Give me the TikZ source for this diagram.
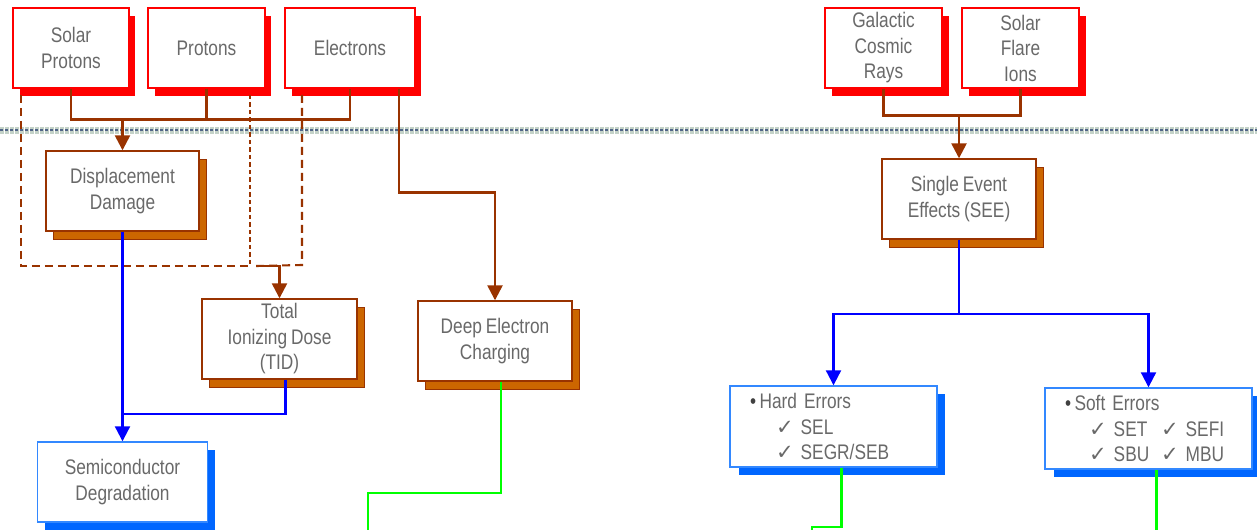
\documentclass[tikz,border=0pt]{standalone}
\usepackage{fontspec}
\setmainfont[FakeStretch=0.82, WordSpace=0.8]{Liberation Sans}
\newfontfamily\chkfont{DejaVu Sans}
\usetikzlibrary{arrows.meta,calc,shadows}
\definecolor{txtgray}{RGB}{105,105,105}
\definecolor{srcred}{RGB}{255,0,0}
\definecolor{effbrown}{RGB}{153,51,0}
\definecolor{effshade}{RGB}{204,102,0}
\definecolor{resblue}{RGB}{51,136,255}
\definecolor{resshade}{RGB}{0,102,255}
\definecolor{arrblue}{RGB}{0,0,255}
\definecolor{arrgreen}{RGB}{0,255,0}
\definecolor{bandgray}{RGB}{196,210,200}
\definecolor{bandblue}{RGB}{80,100,135}
\newcommand{\chk}{{\chkfont\char"2713}}

\begin{document}
\begin{tikzpicture}[
  x=0.02cm, y=-0.02cm,
  every node/.style={font=\fontsize{12}{14.5}\selectfont, text=txtgray, align=center, inner sep=0pt},
  srcbox/.style={draw=srcred, fill=white, line width=0.8pt, minimum width=#1, minimum height=1.6cm,
    general shadow={fill=srcred, shadow xshift=0.13cm, shadow yshift=-0.16cm}},
  effbox/.style={draw=effbrown, fill=white, line width=0.8pt, minimum width=#1, minimum height=1.6cm,
    general shadow={fill=effshade, draw=effbrown, shadow xshift=0.15cm, shadow yshift=-0.17cm}},
  resbox/.style={draw=resblue, fill=white, line width=0.8pt, minimum width=#1, minimum height=1.6cm,
    general shadow={fill=resshade, shadow xshift=0.15cm, shadow yshift=-0.16cm}},
  listbox/.style={draw=resblue, fill=white, line width=0.8pt, text width=3.34cm, inner xsep=0.4cm,
    minimum height=1.62cm, align=left,
    general shadow={fill=resshade, shadow xshift=0.17cm, shadow yshift=-0.16cm}},
  brownline/.style={draw=effbrown, line width=1.4pt},
  brownarr/.style={brownline, -{Triangle[length=0.3cm,width=0.3cm]}},
  bluearr/.style={draw=arrblue, line width=1.2pt, -{Triangle[length=0.3cm,width=0.3cm]}},
  blueline/.style={draw=arrblue, line width=1.2pt},
  greenline/.style={draw=arrgreen, line width=1.2pt},
  groupline/.style={draw=effbrown, line width=1.2pt, dash pattern=on 0.16cm off 0.1cm}
]
\useasboundingbox (0,0) rectangle (1257,530);

\draw[bandgray, line width=0.14cm, dash pattern=on 0.08cm off 0.02cm] (0,130.5) -- (1257,130.5);
\draw[bandblue, line width=0.04cm, dash pattern=on 0.06cm off 0.04cm] (0,130.5) -- (1257,130.5);

\node[srcbox=2.32cm] (solp) at (71,48) {Solar\\Protons};
\node[srcbox=2.34cm] (prot) at (206.5,48) {Protons};
\node[srcbox=2.6cm] (elec) at (350,48) {Electrons};
\node[srcbox=2.34cm] (gcr) at (883.5,48) {Galactic\\Cosmic\\Rays};
\node[srcbox=2.34cm] (sfi) at (1020.5,48) {Solar\\Flare\\Ions};

\node[effbox=3.06cm] (disp) at (122.5,191) {Displacement\\Damage};
\node[effbox=3.1cm] (tid) at (279.5,339) {Total\\Ionizing Dose\\(TID)};
\node[effbox=3.08cm] (dec) at (495,341) {Deep Electron\\Charging};
\node[effbox=3.08cm] (see) at (959,199) {Single Event\\Effects (SEE)};

\node[resbox=3.4cm] (semi) at (122.5,482) {Semiconductor\\Degradation};
\node[listbox] (hard) at (833.5,426.5) {{\color{darkgray}\textbullet}\,Hard Errors\\
  \hspace*{0.52cm}\chk\ SEL\\
  \hspace*{0.52cm}\chk\ SEGR/SEB};
\node[listbox] (soft) at (1148.5,428.5) {{\color{darkgray}\textbullet}\,Soft Errors\\
  \hspace*{0.48cm}\makebox[1.44cm][l]{\chk\ SET}\chk\ SEFI\\
  \hspace*{0.48cm}\makebox[1.44cm][l]{\chk\ SBU}\chk\ MBU};

\coordinate (gtop1) at (21,95);
\coordinate (gtop2) at (250,95);
\coordinate (gtop3) at (302,95);
\coordinate (gend) at (256,266);
\coordinate (gout1) at (368,530);
\coordinate (gout2) at (812,530);
\coordinate (gout3) at (1156.5,530);

\draw[groupline] (gtop1) -- (21,266) -- (250,266);
\draw[groupline, dash pattern=on 0.09cm off 0.06cm] (gtop2) -- (250,266);
\draw[groupline] (gtop3) -- (302,265) -- (gend);
\draw[brownarr] (gend) -| (tid.north);

\draw[brownline] (solp.south) -- ++(0,31) -| (elec.south);
\draw[brownline] (prot.south) -- ++(0,31);
\draw[brownarr] (disp.north |- 0,119) -- (disp.north);
\draw[brownarr] ($(elec.south)+(49,0)$) -- ++(0,104) -| (dec.north);

\draw[brownline] (gcr.south) -- ++(0,27) -| (sfi.south);
\draw[brownarr] (see.north |- 0,115) -- (see.north);

\draw[bluearr] (disp.south) -- (semi.north);
\draw[blueline] ($(tid.south)+(6,0)$) |- ($(semi.north)+(0,-27)$);
\draw[bluearr] (see.south) -- ++(0,74) -| (hard.north);
\draw[bluearr] (see.south) ++(0,74) -| (soft.north);

\draw[greenline] ($(dec.south)+(6,0)$) -- ++(0,111) -| (gout1);
\draw[greenline] ($(hard.south)+(8,0)$) -- ++(0,59) -| (gout2);
\draw[greenline] ($(soft.south)+(8,0)$) -- (gout3);
\end{tikzpicture}
\end{document}
